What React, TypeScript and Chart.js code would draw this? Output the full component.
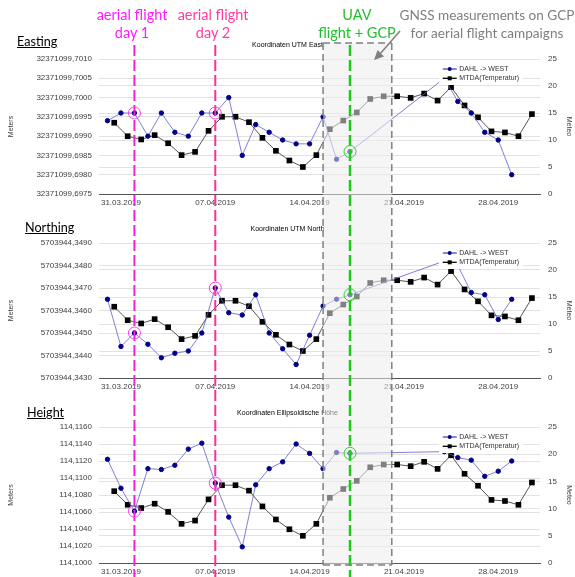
import React, { useEffect, useRef } from 'react';
import { Chart, registerables } from 'chart.js';

Chart.register(...registerables);

const FONT = '"Liberation Sans", Arial, sans-serif';
const ANNOT_FONT = 'Lato, "Open Sans", sans-serif';

// x values are days relative to 31.03.2019 00:00
const X_TICK_DAYS = [0, 7, 14, 21, 28];
const X_TICK_LABELS = ['31.03.2019', '07.04.2019', '14.04.2019', '21.04.2019', '28.04.2019'];
const X_MIN = -1.63;
const X_MAX = 31.1;

// DAHL -> WEST coordinate series (daily solutions)
const DAHL_DAYS = [-1, 0, 1, 2, 3, 4, 5, 6, 7, 8, 9, 10, 11, 12, 13, 14, 15, 16, 17, 24, 25, 26, 27, 28, 29];
const EASTING = [
  32371099.6994, 32371099.6996, 32371099.6996, 32371099.699, 32371099.6996, 32371099.6991, 32371099.699,
  32371099.6996, 32371099.6996, 32371099.7, 32371099.6985, 32371099.6993, 32371099.6991, 32371099.6989,
  32371099.6988, 32371099.6988, 32371099.6995, 32371099.6984, 32371099.6986, 32371099.7005, 32371099.6999,
  32371099.6996, 32371099.6991, 32371099.6989, 32371099.698,
];
const NORTHING = [
  5703944.3465, 5703944.3444, 5703944.345, 5703944.3445, 5703944.3439, 5703944.3441, 5703944.3442,
  5703944.345, 5703944.347, 5703944.3459, 5703944.3458, 5703944.3467, 5703944.345, 5703944.3443,
  5703944.3436, 5703944.3449, 5703944.3462, 5703944.3465, 5703944.3467, 5703944.3482, 5703944.348,
  5703944.3468, 5703944.3467, 5703944.3456, 5703944.3465,
];
const HEIGHT = [
  114.1122, 114.1088, 114.1061, 114.1111, 114.111, 114.1115, 114.1134, 114.1141, 114.1094, 114.1054,
  114.1019, 114.1092, 114.1111, 114.1119, 114.114, 114.1129, 114.1111, 114.113, 114.1129, 114.1131,
  114.1124, 114.1121, 114.1102, 114.1108, 114.112,
];

// MTDA (Temperatur) daily values, plotted at midday
const TEMP_DAYS = [
  -0.5, 0.5, 1.5, 2.5, 3.5, 4.5, 5.5, 6.5, 7.5, 8.5, 9.5, 10.5, 11.5, 12.5, 13.5, 14.5,
  15.5, 16.5, 17.5, 18.5, 19.5, 20.5, 21.5, 22.5, 23.5, 24.5, 25.5, 26.5, 27.5, 28.5, 29.5, 30.5,
];
const TEMPERATURE = [
  13.2, 10.7, 10.1, 10.9, 9.4, 7.2, 7.8, 11.7, 14.3, 14.3, 13.3, 10.4, 8.0, 6.2, 5.0, 7.2,
  12.0, 13.6, 15.1, 17.6, 18.1, 18.1, 17.8, 18.6, 17.3, 19.8, 16.4, 14.2, 11.6, 11.4, 10.7, 14.8,
];

const SERIES_LABELS = ['DAHL -> WEST', 'MTDA(Temperatur)'];

// campaign events (days)
const AERIAL_FLIGHT_DAYS = [1, 7];
const UAV_FLIGHT_DAY = 17;
const GNSS_PERIOD = [15, 20.1];

const AERIAL_COLORS = ['#f020dc', '#ff2f98'];
const AERIAL_TEXT_COLORS = ['#ff1aff', '#ff3d9e'];
const GREEN = '#1ec81e';
const BLUE_LINE = 'rgba(95,95,205,0.8)';
const BLUE_POINT = '#00008b';

// page layout (global px)
const BOX_TOP = 43;
const BOX_BOTTOM = 565;
const LINE_TOP = 45;

type Panel = {
  key: string;
  title: string;
  values: number[];
  base: number;
  yMin: number;
  yMax: number;
  step: number;
  top: number;
  height: number;
  xAxisHeight: number;
};

const PANELS: Panel[] = [
  { key: 'e', title: 'Koordinaten UTM East', values: EASTING, base: 32371099, yMin: 6975, yMax: 7010, step: 5, top: 40, height: 184, xAxisHeight: 30 },
  { key: 'n', title: 'Koordinaten UTM North', values: NORTHING, base: 5703944, yMin: 3430, yMax: 3490, step: 10, top: 224, height: 184, xAxisHeight: 30 },
  { key: 'h', title: 'Koordinaten Ellipsoidische Höhe', values: HEIGHT, base: 114, yMin: 1000, yMax: 1160, step: 20, top: 408, height: 169, xAxisHeight: 14 },
];

const toOffset = (v: number, base: number) => Math.round((v - base) * 10000);

function drawLegend(chart: any) {
  const { ctx, chartArea } = chart;
  const x0 = chartArea.right - 101;
  const y0 = chartArea.top + 3;
  ctx.save();
  ctx.fillStyle = '#ffffff';
  ctx.fillRect(x0, y0, 84, 23);
  chart.data.datasets.slice(0, 2).forEach((ds: any, i: number) => {
    const y = chartArea.top + 10 + i * 9.3;
    const lx0 = x0 + 3.7;
    const lx1 = x0 + 17.7;
    const cx = (lx0 + lx1) / 2;
    ctx.setLineDash([]);
    ctx.strokeStyle = i === 0 ? '#4a4ac8' : '#000000';
    ctx.lineWidth = 1.3;
    ctx.beginPath();
    ctx.moveTo(lx0, y);
    ctx.lineTo(lx1, y);
    ctx.stroke();
    ctx.fillStyle = ds.pointBackgroundColor;
    if (i === 0) {
      ctx.beginPath();
      ctx.arc(cx, y, 2, 0, Math.PI * 2);
      ctx.fill();
    } else {
      ctx.fillRect(cx - 2, y - 2, 4, 4);
    }
    ctx.fillStyle = '#333333';
    ctx.font = `7px ${FONT}`;
    ctx.textBaseline = 'middle';
    ctx.textAlign = 'left';
    ctx.fillText(ds.label, x0 + 20.3, y);
  });
  ctx.restore();
}

function annotationPlugin(panel: Panel) {
  return {
    id: 'fieldAnnotations',
    afterDatasetsDraw(chart: any) {
      drawLegend(chart);
    },
    afterDraw(chart: any) {
      const { ctx } = chart;
      const xs = chart.scales.x;
      const ys = chart.scales.y;
      const off = panel.top;
      const H = chart.height;
      const bx0 = xs.getPixelForValue(GNSS_PERIOD[0]);
      const bx1 = xs.getPixelForValue(GNSS_PERIOD[1]);
      const boxTop = BOX_TOP - off;
      const boxBot = BOX_BOTTOM - off;
      const t = Math.max(0, boxTop);
      const b = Math.min(H, boxBot);
      ctx.save();
      if (b > t) {
        ctx.fillStyle = 'rgba(236,236,236,0.54)';
        ctx.fillRect(bx0, t, bx1 - bx0, b - t);
        ctx.strokeStyle = '#808080';
        ctx.lineWidth = 1.5;
        ctx.setLineDash([7, 4]);
        ctx.lineDashOffset = t + off - BOX_TOP;
        [bx0, bx1].forEach((x) => {
          ctx.beginPath();
          ctx.moveTo(x, t);
          ctx.lineTo(x, b);
          ctx.stroke();
        });
        ctx.lineDashOffset = 0;
        if (boxTop >= 0 && boxTop <= H) {
          ctx.beginPath();
          ctx.moveTo(bx0, boxTop);
          ctx.lineTo(bx1, boxTop);
          ctx.stroke();
        }
        if (boxBot >= 0 && boxBot <= H) {
          ctx.beginPath();
          ctx.moveTo(bx0, boxBot);
          ctx.lineTo(bx1, boxBot);
          ctx.stroke();
        }
      }
      const lt = Math.max(0, LINE_TOP - off);
      ctx.setLineDash([11, 4]);
      ctx.lineDashOffset = lt + off - LINE_TOP;
      AERIAL_FLIGHT_DAYS.forEach((d, i) => {
        const x = xs.getPixelForValue(d);
        ctx.strokeStyle = AERIAL_COLORS[i];
        ctx.lineWidth = 2;
        ctx.beginPath();
        ctx.moveTo(x, lt);
        ctx.lineTo(x, H);
        ctx.stroke();
      });
      const gx = xs.getPixelForValue(UAV_FLIGHT_DAY);
      ctx.strokeStyle = GREEN;
      ctx.lineWidth = 2.5;
      ctx.beginPath();
      ctx.moveTo(gx, lt);
      ctx.lineTo(gx, H);
      ctx.stroke();

      // event markers on the DAHL series
      ctx.setLineDash([]);
      ctx.lineWidth = 1;
      const marker = (d: number, color: string) => {
        const idx = DAHL_DAYS.indexOf(d);
        if (idx < 0) return;
        const x = xs.getPixelForValue(d);
        const y = ys.getPixelForValue(toOffset(panel.values[idx], panel.base));
        ctx.strokeStyle = color;
        ctx.beginPath();
        ctx.arc(x, y, 6, 0, Math.PI * 2);
        ctx.stroke();
      };
      AERIAL_FLIGHT_DAYS.forEach((d) => marker(d, '#ff3cf0'));
      marker(UAV_FLIGHT_DAY, '#33cc33');
      ctx.restore();
    },
  };
}

function buildConfig(panel: Panel): any {
  const tickFont = { family: FONT, size: 8 };
  const titleFont = { family: FONT, size: 7 };
  return {
    type: 'line',
    data: {
      datasets: [
        {
          label: SERIES_LABELS[0],
          data: DAHL_DAYS.map((d, i) => ({ x: d, y: toOffset(panel.values[i], panel.base) })),
          yAxisID: 'y',
          borderColor: BLUE_LINE,
          borderWidth: 1,
          pointStyle: 'circle',
          pointRadius: 2.2,
          pointBorderWidth: 1,
          pointBackgroundColor: BLUE_POINT,
          pointBorderColor: BLUE_POINT,
          tension: 0,
          fill: false,
        },
        {
          label: SERIES_LABELS[1],
          data: TEMP_DAYS.map((d, i) => ({ x: d, y: TEMPERATURE[i] })),
          yAxisID: 'y1',
          borderColor: '#555555',
          borderWidth: 1,
          pointStyle: 'rect',
          pointRadius: 4,
          pointBorderWidth: 0,
          pointBackgroundColor: '#000000',
          pointBorderColor: '#000000',
          tension: 0,
          fill: false,
        },
      ],
    },
    options: {
      animation: false,
      responsive: false,
      maintainAspectRatio: false,
      events: [],
      layout: { padding: 0 },
      plugins: {
        legend: { display: false },
        tooltip: { enabled: false },
        title: {
          display: true,
          text: panel.title,
          color: '#000000',
          font: { family: FONT, size: 7, weight: 'normal' },
          padding: { top: 1, bottom: 9.6 },
        },
      },
      scales: {
        x: {
          type: 'linear',
          min: X_MIN,
          max: X_MAX,
          afterBuildTicks: (axis: any) => {
            axis.ticks = X_TICK_DAYS.map((v) => ({ value: v }));
          },
          afterFit: (axis: any) => {
            axis.height = panel.xAxisHeight;
          },
          ticks: {
            callback: (v: number) => {
              const i = X_TICK_DAYS.indexOf(v);
              return i >= 0 ? X_TICK_LABELS[i] : '';
            },
            font: tickFont,
            color: '#404040',
            maxRotation: 0,
            autoSkip: false,
            padding: 4,
          },
          grid: { display: false, drawTicks: false },
          border: { display: true, color: '#555555', width: 1 },
        },
        y: {
          type: 'linear',
          position: 'left',
          min: panel.yMin,
          max: panel.yMax,
          afterFit: (axis: any) => {
            axis.width = 99;
          },
          ticks: {
            stepSize: panel.step,
            autoSkip: false,
            font: tickFont,
            color: '#404040',
            padding: 7,
            callback: (v: number) => `${panel.base},${String(Math.round(v)).padStart(4, '0')}`,
          },
          grid: { color: '#e2e2e2', drawTicks: false },
          border: { display: false },
          title: {
            display: true,
            text: 'Meters',
            color: '#404040',
            font: titleFont,
            padding: { top: 6.8, bottom: 0 },
          },
        },
        y1: {
          type: 'linear',
          position: 'right',
          min: 0,
          max: 25,
          afterFit: (axis: any) => {
            axis.width = 35;
          },
          ticks: {
            stepSize: 5,
            autoSkip: false,
            font: tickFont,
            color: '#404040',
            padding: 8,
          },
          grid: { color: '#e2e2e2', drawTicks: false },
          border: { display: false },
          title: {
            display: true,
            text: 'Meteo',
            color: '#404040',
            font: titleFont,
            padding: { top: 1.5, bottom: 0 },
          },
        },
      },
    },
    plugins: [annotationPlugin(panel)],
  };
}

function ChartPanel({ panel }: { panel: Panel }) {
  const ref = useRef<HTMLCanvasElement>(null);
  useEffect(() => {
    if (!ref.current) return;
    const chart = new Chart(ref.current, buildConfig(panel));
    return () => chart.destroy();
  }, [panel]);
  return (
    <canvas
      ref={ref}
      width={575}
      height={panel.height}
      style={{ position: 'absolute', left: 0, top: panel.top, width: 575, height: panel.height, display: 'block' }}
    />
  );
}

const SECTION_LABELS = [
  { text: 'Easting', left: 17, top: 34 },
  { text: 'Northing', left: 25, top: 220 },
  { text: 'Height', left: 27, top: 405 },
];

const ANNOTATION_TEXTS = [
  { lines: ['aerial flight', 'day 1'], cx: 132, color: AERIAL_TEXT_COLORS[0], size: 14.5 },
  { lines: ['aerial flight', 'day 2'], cx: 213, color: AERIAL_TEXT_COLORS[1], size: 14.5 },
  { lines: ['UAV', 'flight + GCP'], cx: 357, color: '#22c02a', size: 14.5 },
  { lines: ['GNSS measurements on GCP', 'for aerial flight campaigns'], cx: 487, color: '#7f7f7f', size: 13.6 },
];

export default function App() {
  return (
    <div
      style={{
        position: 'fixed',
        left: 0,
        top: 0,
        width: 575,
        height: 577,
        overflow: 'hidden',
        background: '#ffffff',
      }}
    >
      {PANELS.map((p) => (
        <ChartPanel key={p.key} panel={p} />
      ))}
      {SECTION_LABELS.map((s) => (
        <div
          key={s.text}
          style={{
            position: 'absolute',
            left: s.left,
            top: s.top,
            font: `12.6px ${ANNOT_FONT}`,
            lineHeight: '16px',
            color: '#000000',
            textDecoration: 'underline',
            whiteSpace: 'nowrap',
          }}
        >
          {s.text}
        </div>
      ))}
      {ANNOTATION_TEXTS.map((a) => (
        <div
          key={a.lines.join('|')}
          style={{
            position: 'absolute',
            left: a.cx,
            top: 6,
            transform: 'translateX(-50%)',
            textAlign: 'center',
            whiteSpace: 'nowrap',
            font: `${a.size}px ${ANNOT_FONT}`,
            lineHeight: '18px',
            color: a.color,
          }}
        >
          {a.lines[0]}
          <br />
          {a.lines[1]}
        </div>
      ))}
      <svg
        width={575}
        height={577}
        style={{ position: 'absolute', left: 0, top: 0, pointerEvents: 'none' }}
      >
        <line x1={400} y1={31} x2={380.6} y2={53.2} stroke="#7f7f7f" strokeWidth={1.5} />
        <polygon points="374,60 384,56.4 377.6,49.9" fill="#7f7f7f" />
      </svg>
    </div>
  );
}
